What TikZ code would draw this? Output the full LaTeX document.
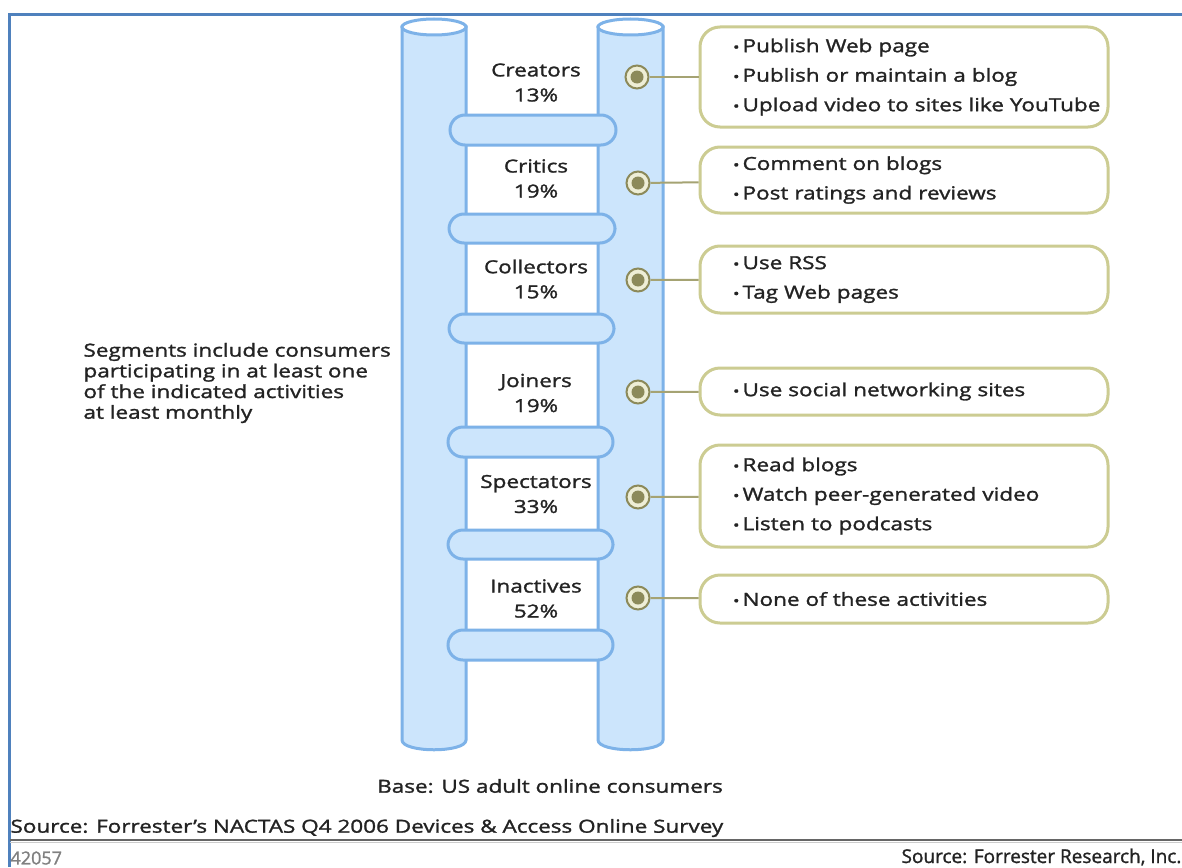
\documentclass[tikz,border=0pt]{standalone}
\usepackage{fontspec}
\setmainfont{Open Sans}[FakeStretch=1.25, FakeBold=1.5]
\newfontfamily\footfont{Open Sans}[FakeBold=1.2]
\usetikzlibrary{positioning}
\definecolor{poleline}{RGB}{125,178,232}
\definecolor{polefill}{RGB}{204,229,252}
\definecolor{boxline}{RGB}{204,204,146}
\definecolor{dotolive}{RGB}{140,138,90}
\definecolor{dotcream}{RGB}{238,238,214}
\definecolor{linkolive}{RGB}{165,163,115}
\definecolor{frameblue}{RGB}{79,129,189}
\definecolor{textgray}{RGB}{35,35,35}
% one bulleted line, never wrapped
\newcommand{\act}[1]{\mbox{{\fontsize{14}{14}\selectfont\textbullet}\hspace{3pt}#1}}
\tikzset{
pole/.style={draw=poleline, line width=3pt, fill=polefill}, % the two uprights
rung/.style={pole, rounded corners=15pt}, % the steps
segment/.style={align=center, text=textgray, font=\fontsize{18}{25}\selectfont},
activity/.style={draw=boxline, line width=3pt, rounded corners=20pt, text width=342pt,
  inner xsep=33pt, inner ysep=0pt, align=left, text=textgray, font=\fontsize{18}{29.5}\selectfont},
dot/.style={circle, draw=dotolive, line width=2pt, fill=dotcream, minimum size=23pt, inner sep=0pt,
  path picture={\fill[dotolive] (path picture bounding box.center) circle (6.5pt);}},
link/.style={draw=linkolive, line width=2pt},
note/.style={text=textgray, font=\fontsize{18}{20.7}\selectfont},
}
\begin{document}
\begin{tikzpicture}[x=1pt, y=-1pt]
       \fill[white] (0,0) rectangle (1182,867);
       \useasboundingbox (0,0) rectangle (1182,867);

       % frame
       \draw[frameblue, line width=3pt] (9.5,867) -- (9.5,14.5) -- (1182,14.5);
       \draw[gray!80!black, line width=1.5pt] (10,840) -- (1182,840);
       \draw[gray!40, line width=1pt] (10,842.5) -- (1182,842.5);

       % ladder
       \draw[pole] (402,27) -- (402,740) .. controls (402,753) and (466,753) .. (466,740) -- (466,27) -- cycle;
       \draw[pole, fill=white] (434,27) ellipse [x radius=32, y radius=8];
       \draw[pole] (598,27) -- (598,740) .. controls (598,753) and (663,753) .. (663,740) -- (663,27) -- cycle;
       \draw[pole, fill=white] (630.5,27) ellipse [x radius=32.5, y radius=8];
       \draw[rung] (450,115) rectangle (616,145);
       \draw[rung] (449,214) rectangle (615,243);
       \draw[rung] (449,314) rectangle (614,343);
       \draw[rung] (448,427) rectangle (613,457);
       \draw[rung] (448,530) rectangle (613,559);
       \draw[rung] (448,630) rectangle (613,660);

       % segments
       \node[segment] (sCreators) at (536,82.5) {Creators\\13\%};
       \node[segment] (sCritics) at (536,178.5) {Critics\\19\%};
       \node[segment] (sCollectors) at (536,279) {Collectors\\15\%};
       \node[segment] (sJoiners) at (536,393) {Joiners\\19\%};
       \node[segment] (sSpectators) at (536,494) {Spectators\\33\%};
       \node[segment] (sInactives) at (536,598.5) {Inactives\\52\%};

       \node[dot] (dCreators) at (637,77) {};
       \node[dot] (dCritics) at (638,183) {};
       \node[dot] (dCollectors) at (638,280) {};
       \node[dot] (dJoiners) at (638,392) {};
       \node[dot] (dSpectators) at (638,497) {};
       \node[dot] (dInactives) at (638,598) {};

       % activities
       \node[activity, minimum height=100pt] (aCreators) at (904,77)
             {\act{Publish Web page}\\\act{Publish or maintain a blog}\\\act{Upload video to sites like YouTube}};
       \node[activity, minimum height=66pt] (aCritics) at (904,180)
             {\act{Comment on blogs}\\\act{Post ratings and reviews}};
       \node[activity, minimum height=67pt] (aCollectors) at (904,279.5)
             {\act{Use RSS}\\\act{Tag Web pages}};
       \node[activity, minimum height=47pt] (aJoiners) at (904,391.5)
             {\act{Use social networking sites}};
       \node[activity, minimum height=102pt] (aSpectators) at (904,496)
             {\act{Read blogs}\\\act{Watch peer-generated video}\\\act{Listen to podcasts}};
       \node[activity, minimum height=48pt] (aInactives) at (904,599)
             {\act{None of these activities}};

       \draw[link] (dCreators) -- (aCreators);
       \draw[link] (dCritics) -- (aCritics);
       \draw[link] (dCollectors) -- (aCollectors);
       \draw[link] (dJoiners) -- (aJoiners);
       \draw[link] (dSpectators) -- (aSpectators);
       \draw[link] (dInactives) -- (aInactives);

       % notes
       \node[note, align=left, anchor=west] (scope) at (80,383)
             {Segments include consumers\\participating in at least one\\of the indicated activities\\at least monthly};
       \node[note] (base) at (550,786) {Base: US adult online consumers};
       \node[note, anchor=west] (survey) at (7,828) {Source: Forrester’s NACTAS Q4 2006 Devices \& Access Online Survey};
       \node[note, anchor=west, text=gray, font=\footfont\fontsize{18}{20}\selectfont] (figno) at (7,858) {42057};
       \node[note, anchor=east, font=\footfont\fontsize{19}{20}\selectfont] (credit) at (1185,857) {Source: Forrester Research, Inc.};
\end{tikzpicture}
\end{document}
